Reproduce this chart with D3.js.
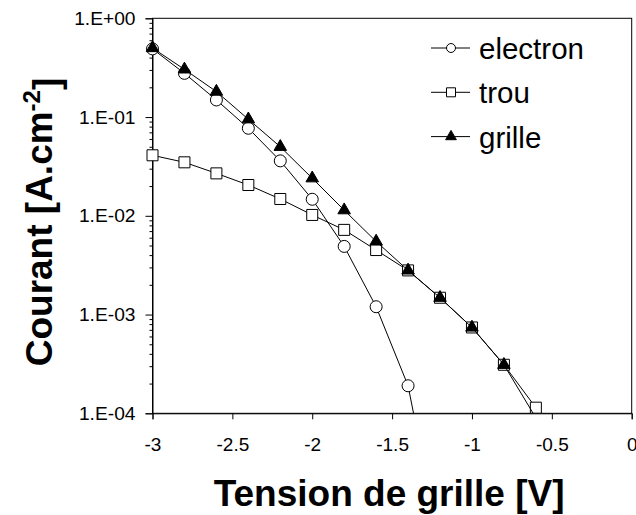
<!DOCTYPE html>
<html>
<head>
<meta charset="utf-8">
<script src="https://cdn.jsdelivr.net/npm/d3@7"></script>
<style>
  body { margin: 0; background: #fff; }
  svg { display: block; font-family: "Liberation Sans", Arial, sans-serif; }
</style>
</head>
<body>
<div id="chart"></div>
<script>
// valeurs
const tension = [-3, -2.8, -2.6, -2.4, -2.2, -2, -1.8, -1.6, -1.4, -1.2, -1, -0.8, -0.6];
const electron = [0.49, 0.277, 0.149, 0.077, 0.036, 0.0147, 0.0049, 0.0012, 0.00019, 0.0000045];
const trou = [0.041, 0.0348, 0.0269, 0.0205, 0.0148, 0.0102, 0.0072, 0.0045, 0.0028, 0.00148, 0.00074, 0.00031, 0.000114];
const grille = [0.50, 0.304, 0.181, 0.095, 0.050, 0.024, 0.0114, 0.0055, 0.0028, 0.00148, 0.00074, 0.00031, 0.00009];

const xTicks = [-3, -2.5, -2, -1.5, -1, -0.5, 0];
const xTickLabels = ["-3", "-2.5", "-2", "-1.5", "-1", "-0.5", "0"];
const yTicks = [1e-4, 1e-3, 1e-2, 1e-1, 1];
const yTickLabels = ["1.E-04", "1.E-03", "1.E-02", "1.E-01", "1.E+00"];
const seriesNames = ["electron", "trou", "grille"];

const W = 636, H = 515;
const plotL = 152.5, plotR = 631.7, plotT = 18.3, plotB = 413.3;

const svg = d3.select("#chart").append("svg")
    .attr("width", W)
    .attr("height", H);

const x = d3.scaleLinear().domain([-3, 0]).range([plotL, plotR]);
const y = d3.scaleLog().domain([1e-4, 1]).range([plotB, plotT]);

// cadre
svg.append("rect")
    .attr("x", plotL).attr("y", plotT)
    .attr("width", plotR - plotL).attr("height", plotB - plotT)
    .attr("fill", "none").attr("stroke", "#000").attr("stroke-width", 1);

// graduations mineures (log)
const minor = [];
for (let e = -4; e < 0; e++) {
  for (let m = 2; m <= 9; m++) minor.push(m * Math.pow(10, e));
}
svg.append("g")
    .attr("transform", `translate(${plotL},0)`)
    .call(d3.axisLeft(y).tickValues(minor).tickSize(3).tickFormat(""))
    .call(g => g.select(".domain").remove())
    .call(g => g.selectAll("line").attr("stroke", "#000"));

const yAxis = svg.append("g")
    .attr("transform", `translate(${plotL},0)`)
    .call(d3.axisLeft(y).tickValues(yTicks).tickSize(7).tickPadding(10)
      .tickFormat((d, i) => yTickLabels[i]));
yAxis.selectAll("text").style("font-size", "19.2px").attr("fill", "#000");

const xAxis = svg.append("g")
    .attr("transform", `translate(0,${plotB})`)
    .call(d3.axisBottom(x).tickValues(xTicks).tickSize(6).tickPadding(18)
      .tickFormat((d, i) => xTickLabels[i]));
xAxis.selectAll("text").style("font-size", "19px").attr("fill", "#000");

[yAxis, xAxis].forEach(a => {
  a.select(".domain").attr("stroke", "#000");
  a.selectAll("line").attr("stroke", "#000");
});

// courbes
svg.append("clipPath").attr("id", "zone")
  .append("rect")
    .attr("x", plotL).attr("y", plotT)
    .attr("width", plotR - plotL).attr("height", plotB - plotT);

const line = d3.line()
    .x(d => x(d.v))
    .y(d => y(d.i));

const series = [electron, trou, grille].map((vals, k) => ({
  name: seriesNames[k],
  points: vals.map((v, j) => ({ v: tension[j], i: v }))
}));

const symbolOf = {
  electron: d3.symbol().type(d3.symbolCircle).size(Math.PI * 36),
  trou: d3.symbol().type(d3.symbolSquare).size(121),
  grille: d3.symbol().type(d3.symbolTriangle).size(68)
};
const fillOf = { electron: "#fff", trou: "#fff", grille: "#000" };

series.forEach(s => {
  svg.append("path")
      .datum(s.points)
      .attr("clip-path", "url(#zone)")
      .attr("fill", "none")
      .attr("stroke", "#000")
      .attr("stroke-width", 1)
      .attr("d", line);

  svg.selectAll(".pt-" + s.name)
    .data(s.points.filter(d => d.i >= 1e-4 && d.i <= 1))
    .enter().append("path")
      .attr("class", "pt-" + s.name)
      .attr("transform", d => `translate(${x(d.v)},${y(d.i)})`)
      .attr("d", symbolOf[s.name]())
      .attr("fill", fillOf[s.name])
      .attr("stroke", "#000")
      .attr("stroke-width", 1);
});

// légende
const legendSym = {
  electron: d3.symbol().type(d3.symbolCircle).size(Math.PI * 20),
  trou: d3.symbol().type(d3.symbolSquare).size(81),
  grille: d3.symbol().type(d3.symbolTriangle).size(50)
};
const legend = svg.selectAll(".legend")
    .data(seriesNames)
    .enter().append("g")
    .attr("class", "legend")
    .attr("transform", (d, i) => `translate(431,${48 + i * 44.3})`);

legend.append("line")
    .attr("x1", 0).attr("x2", 39)
    .attr("stroke", "#000").attr("stroke-width", 1);
legend.append("path")
    .attr("transform", "translate(20,0)")
    .attr("d", d => legendSym[d]())
    .attr("fill", d => fillOf[d])
    .attr("stroke", "#000");
legend.append("text")
    .attr("x", 48)
    .attr("dy", "0.37em")
    .style("font-size", "29.5px")
    .text(d => d);

// titres des axes
svg.append("text")
    .attr("x", (plotL + plotR) / 2 - 3)
    .attr("y", 506)
    .attr("text-anchor", "middle")
    .style("font-size", "37px")
    .style("font-weight", "bold")
    .text("Tension de grille [V]");

const yTitle = svg.append("text")
    .attr("transform", "translate(52,222) rotate(-90)")
    .attr("text-anchor", "middle")
    .style("font-size", "37px")
    .style("font-weight", "bold");
yTitle.append("tspan").text("Courant [A.cm");
yTitle.append("tspan").attr("dy", "-0.5em").style("font-size", "24px").text("-2");
yTitle.append("tspan").attr("dy", "0.5em").text("]");
</script>
</body>
</html>
